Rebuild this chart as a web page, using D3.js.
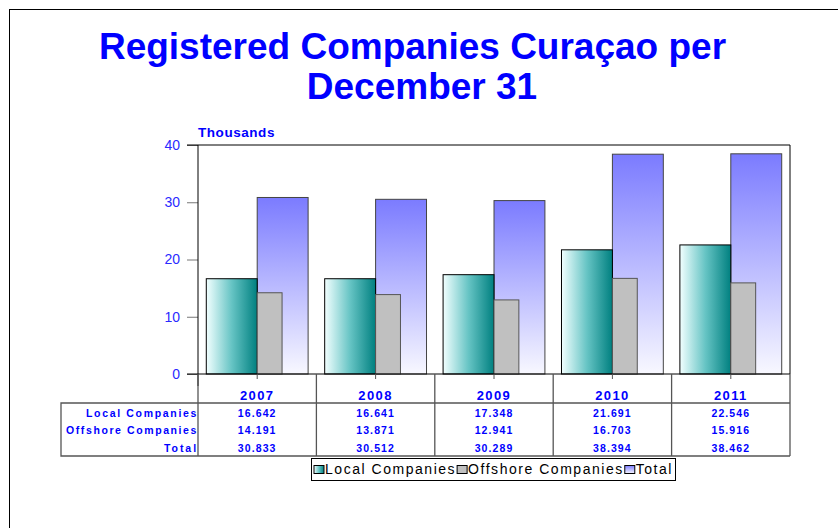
<!DOCTYPE html>
<html lang="en">
<head>
<meta charset="utf-8">
<title>Registered Companies Curaçao</title>
<script src="https://d3js.org/d3.v7.min.js"></script>
<style>
  body { margin: 0; background: #fff; }
  svg { display: block; font-family: "Liberation Sans", Arial, sans-serif; }
</style>
</head>
<body>
<svg id="chart" width="838" height="528"></svg>
<script>
// values in thousands
const years = ['2007', '2008', '2009', '2010', '2011'];
const localCompanies = [16.642, 16.641, 17.348, 21.691, 22.546];
const offshoreCompanies = [14.191, 13.871, 12.941, 16.703, 15.916];
const totalCompanies = [30.833, 30.512, 30.289, 38.394, 38.462];
const yTicks = [0, 10, 20, 30, 40];
const seriesNames = ['Local Companies', 'Offshore Companies', 'Total'];

const BLUE = '#0000ff';
const svg = d3.select('#chart');

// spread letters so a text node covers a given width (old chart renderer is loose)
function spreadTo(sel, width) {
  const n = sel.text().length;
  const w = sel.node().getComputedTextLength();
  if (n > 1 && width > w) sel.attr('letter-spacing', (width - w) / n);
  return sel;
}

// gradients
const defs = svg.append('defs');
const gLocal = defs.append('linearGradient').attr('id', 'gLocal')
  .attr('x1', 0).attr('y1', 0).attr('x2', 1).attr('y2', 0);
gLocal.append('stop').attr('offset', '0%').attr('stop-color', '#f2ffff');
gLocal.append('stop').attr('offset', '50%').attr('stop-color', '#66c4c4');
gLocal.append('stop').attr('offset', '100%').attr('stop-color', '#008080');
const gTotal = defs.append('linearGradient').attr('id', 'gTotal')
  .attr('x1', 0).attr('y1', 0).attr('x2', 0).attr('y2', 1);
gTotal.append('stop').attr('offset', '0%').attr('stop-color', '#7b7bff');
gTotal.append('stop').attr('offset', '100%').attr('stop-color', '#f8f8ff');

// outer frame
svg.append('rect').attr('x', 9.5).attr('y', 9.5).attr('width', 900).attr('height', 600)
  .attr('fill', 'none').attr('stroke', '#000');

// title
svg.append('text').attr('x', 412.5).attr('y', 59).attr('text-anchor', 'middle')
  .attr('fill', BLUE).attr('font-weight', 'bold').attr('font-size', 37)
  .text('Registered Companies Curaçao per');
svg.append('text').attr('x', 422).attr('y', 99).attr('text-anchor', 'middle')
  .attr('fill', BLUE).attr('font-weight', 'bold').attr('font-size', 37)
  .text('December 31');

const plotLeft = 198, plotRight = 790, plotTop = 145, plotBase = 374;
const x = d3.scaleBand().domain(years).range([plotLeft, plotRight]).padding(0);
const y = d3.scaleLinear().domain([0, 40]).range([plotBase, plotTop]);
const bw = x.bandwidth();
const wide = bw * 0.43, narrow = bw * 0.21;
const cx = d => x(d) + bw / 2;

spreadTo(svg.append('text').attr('x', plotLeft).attr('y', 137).attr('fill', BLUE)
  .attr('font-weight', 'bold').attr('font-size', 13.5).text('Thousands'), 77);

// y axis
const yAxis = svg.append('g').attr('transform', `translate(${plotLeft},0)`)
  .call(d3.axisLeft(y).tickValues(yTicks).tickSize(11).tickPadding(7));
yAxis.select('.domain').remove();
yAxis.selectAll('line').attr('stroke', '#777');
yAxis.selectAll('text').attr('fill', '#2a2aff').attr('font-size', 14)
  .attr('font-family', '"Liberation Sans", Arial, sans-serif');

// bars: total behind, then local, then offshore
svg.append('g').selectAll('rect').data(years).join('rect')
  .attr('x', d => cx(d)).attr('width', wide)
  .attr('y', (d, i) => y(totalCompanies[i])).attr('height', (d, i) => plotBase - y(totalCompanies[i]))
  .attr('fill', 'url(#gTotal)').attr('stroke', '#444').attr('stroke-width', 1);
svg.append('g').selectAll('rect').data(years).join('rect')
  .attr('x', d => cx(d) - wide).attr('width', wide)
  .attr('y', (d, i) => y(localCompanies[i])).attr('height', (d, i) => plotBase - y(localCompanies[i]))
  .attr('fill', 'url(#gLocal)').attr('stroke', '#000').attr('stroke-width', 1);
svg.append('g').selectAll('rect').data(years).join('rect')
  .attr('x', d => cx(d)).attr('width', narrow)
  .attr('y', (d, i) => y(offshoreCompanies[i])).attr('height', (d, i) => plotBase - y(offshoreCompanies[i]))
  .attr('fill', '#c0c0c0').attr('stroke', '#555').attr('stroke-width', 1);

// plot frame
svg.append('path')
  .attr('d', `M${plotLeft - 11},${plotTop}H${plotRight}V${plotBase}M${plotLeft},${plotTop}V${plotBase + 12}`)
  .attr('fill', 'none').attr('stroke', '#000');
svg.append('line').attr('x1', plotLeft - 11).attr('x2', plotRight).attr('y1', plotBase).attr('y2', plotBase)
  .attr('stroke', '#000');

// centre ticks
svg.append('g').selectAll('line').data(years).join('line')
  .attr('x1', d => cx(d)).attr('x2', d => cx(d)).attr('y1', plotBase).attr('y2', plotBase + 5)
  .attr('stroke', '#555');

// data table
const tbl = svg.append('g');
const rowTop = 403, tblBottom = 456, tblLeft = 61;
const TG = '#555';
tbl.selectAll('line.v').data(years.concat(['end'])).join('line')
  .attr('x1', d => d === 'end' ? plotRight : x(d)).attr('x2', d => d === 'end' ? plotRight : x(d))
  .attr('y1', plotBase).attr('y2', tblBottom).attr('stroke', TG).attr('stroke-width', 1.3);
tbl.append('path')
  .attr('d', `M${plotRight},${rowTop}H${tblLeft}V${tblBottom}H${plotRight}`)
  .attr('fill', 'none').attr('stroke', TG).attr('stroke-width', 1.3);

tbl.selectAll('text.yr').data(years).join('text')
  .attr('x', d => cx(d)).attr('y', 400).attr('text-anchor', 'middle')
  .attr('fill', BLUE).attr('font-weight', 'bold').attr('font-size', 13)
  .attr('letter-spacing', 1.4).text(d => d);

const rows = [localCompanies, offshoreCompanies, totalCompanies];
const rowBase = [417, 434, 452];
const labelWidth = [112, 132, 34];
const fmt = d3.format('.3f');
rows.forEach((vals, r) => {
  spreadTo(tbl.append('text').attr('x', plotLeft).attr('y', rowBase[r]).attr('text-anchor', 'end')
    .attr('fill', BLUE).attr('font-weight', 'bold').attr('font-size', 10.5)
    .text(seriesNames[r]), labelWidth[r]);
  tbl.selectAll(null).data(years).join('text')
    .attr('x', d => cx(d)).attr('y', rowBase[r]).attr('text-anchor', 'middle')
    .attr('fill', BLUE).attr('font-weight', 'bold').attr('font-size', 10.5)
    .attr('letter-spacing', 1.1).text((d, i) => fmt(vals[i]));
});

// legend: three items spread over the box width
const lg = svg.append('g');
const swatchFill = ['url(#gLocal)', '#c0c0c0', 'url(#gTotal)'];
const boxL = 311.5, boxR = 675.5, sw = 12;
const items = seriesNames.map(name => lg.append('text').attr('y', 474).attr('font-size', 14)
  .attr('fill', '#000').text(name));
const natural = items.map(t => t.node().getComputedTextLength());
const chars = d3.sum(seriesNames, s => s.length);
const ls = (boxR - boxL - 4 - 3 * sw - d3.sum(natural)) / chars;
let lx = boxL + 2.5;
items.forEach((t, i) => {
  lg.insert('rect', 'text').attr('x', lx).attr('y', 465.5).attr('width', sw - 2).attr('height', 8)
    .attr('fill', swatchFill[i]).attr('stroke', '#000');
  t.attr('x', lx + sw - 1).attr('letter-spacing', ls);
  lx += sw + natural[i] + ls * seriesNames[i].length;
});
lg.insert('rect', ':first-child').attr('x', boxL).attr('y', 458.5)
  .attr('width', boxR - boxL).attr('height', 22).attr('fill', '#fff').attr('stroke', '#000');
</script>
</body>
</html>
